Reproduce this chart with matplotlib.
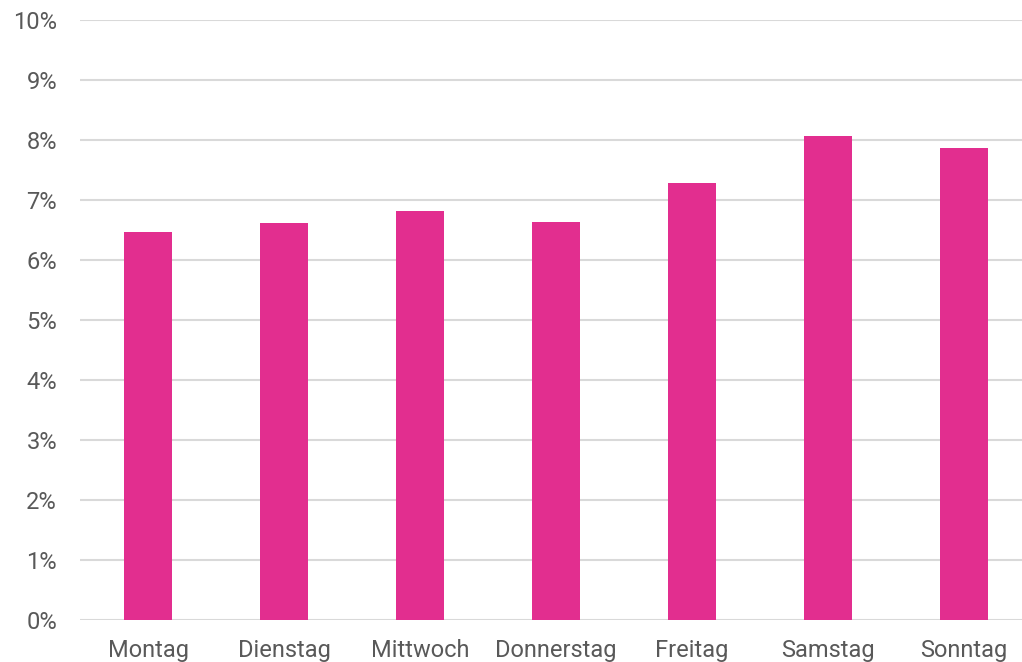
import matplotlib.pyplot as plt
import numpy as np

plt.rcParams['font.family'] = ['Roboto', 'DejaVu Sans']

days = ["Montag", "Dienstag", "Mittwoch", "Donnerstag", "Freitag", "Samstag", "Sonntag"]
shares = [6.47, 6.62, 6.82, 6.63, 7.28, 8.07, 7.87]

W, H = 1022, 662
fig = plt.figure(figsize=(W / 100, H / 100), dpi=100)
ax = fig.add_axes([80 / W, 42 / H, (W - 80) / W, 600 / H])

x = np.arange(len(days))
ax.bar(x, shares, width=48 / 136, color="#E22E8F", zorder=3)

ax.set_ylim(0, 10)
ax.set_xlim(-0.5, 6.5 - 10 / 136)
ax.set_yticks(range(0, 11))
ax.set_yticklabels([f"{i}%" for i in range(0, 11)])
ax.set_xticks(x)
ax.set_xticklabels(days)

ax.grid(axis="y", color="#d9d9d9", linewidth=1.5, zorder=0)
for s in ax.spines.values():
    s.set_visible(False)
ax.tick_params(axis="both", length=0, labelsize=17, labelcolor="#595959")
ax.tick_params(axis="y", pad=16.5)
ax.tick_params(axis="x", pad=14)

fig.savefig("out.png", dpi=100)
